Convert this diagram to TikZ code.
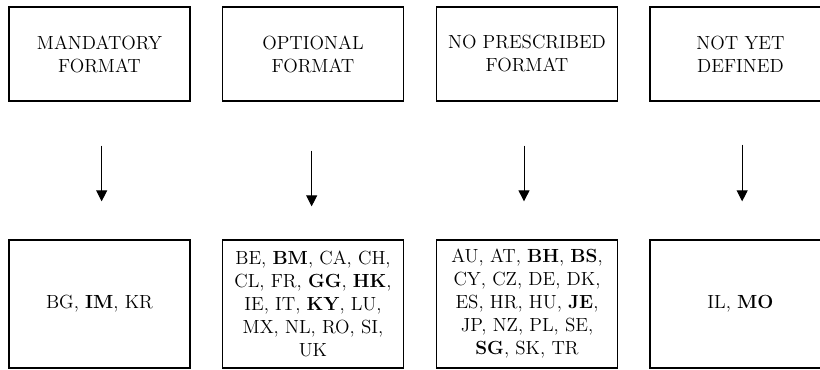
\documentclass[tikz,border=0pt]{standalone}
\usetikzlibrary{arrows.meta}

\tikzset{
  fmtbox/.style={draw, line width=0.8pt, minimum width=108.6pt, minimum height=56.4pt,
    inner sep=0pt, align=center, font=\fontsize{11.4}{13.8}\selectfont},
  listbox/.style={fmtbox, minimum height=76.8pt},
  flow/.style={line width=0.6pt, -{Triangle[width=6.6pt, length=6.6pt]}}
}

\begin{document}
\begin{tikzpicture}[x=0.6pt, y=-0.6pt]
      \useasboundingbox (0,0) rectangle (820,369);
      \clip (0,0) rectangle (820,369);

      \node[fmtbox] (mand) at (99.5, 54) {MANDATORY\\FORMAT};
      \node[fmtbox] (opt) at (313, 54) {OPTIONAL\\FORMAT};
      \node[fmtbox] (nopre) at (527, 54) {NO PRESCRIBED\\FORMAT};
      \node[fmtbox] (undef) at (740.5, 54) {NOT YET\\DEFINED};

      \node[listbox] (mandc) at (99.5, 304) {BG, \textbf{IM}, KR};
      \node[listbox] (optc) at (313, 304)
        {BE, \textbf{BM}, CA, CH,\\CL, FR, \textbf{GG}, \textbf{HK},\\IE, IT, \textbf{KY}, LU,\\MX, NL, RO, SI,\\UK};
      \node[listbox] (noprec) at (527, 304)
        {AU, AT, \textbf{BH}, \textbf{BS},\\CY, CZ, DE, DK,\\ES, HR, HU, \textbf{JE},\\JP, NZ, PL, SE,\\\textbf{SG}, SK, TR};
      \node[listbox] (undefc) at (740.5, 304) {IL, \textbf{MO}};

      \draw[flow, shorten <=26.4pt, shorten >=22.8pt] ([xshift=1.3pt]mand.south) -- ([xshift=1.3pt]mandc.north);
      \draw[flow, shorten <=29.4pt, shorten >=19.8pt] ([xshift=-0.8pt]opt.south) -- ([xshift=-0.8pt]optc.north);
      \draw[flow, shorten <=26.4pt, shorten >=22.8pt] ([xshift=-1.8pt]nopre.south) -- ([xshift=-1.8pt]noprec.north);
      \draw[flow, shorten <=25.8pt, shorten >=22.8pt] ([xshift=1pt]undef.south) -- ([xshift=1pt]undefc.north);
\end{tikzpicture}
\end{document}
